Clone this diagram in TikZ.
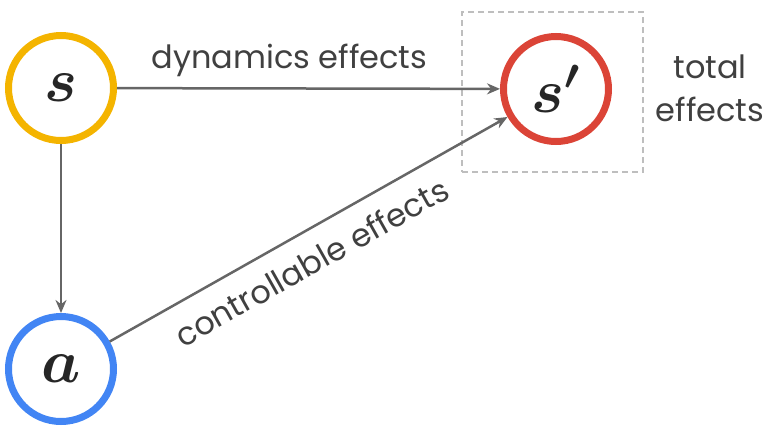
\RequirePackage{fix-cm}
\documentclass[tikz,border=0pt]{standalone}
\usepackage{fontspec}
\setmainfont{Poppins}
\usepackage{amsmath}
\usetikzlibrary{arrows.meta}
\definecolor{stateyellow}{RGB}{244,180,0}
\definecolor{actionblue}{RGB}{66,133,244}
\definecolor{nextred}{RGB}{219,68,55}
\definecolor{arrowgray}{RGB}{102,102,102}
\definecolor{boxgray}{RGB}{190,190,190}
\definecolor{textgray}{RGB}{64,64,64}

\begin{document}
\begin{tikzpicture}[
    x=1pt, y=-1pt,
    >={Stealth[length=13pt, width=11pt]},
    var/.style={circle, draw, line width=7pt, minimum size=105pt, inner sep=0pt, fill=white, text=black!85,
        font=\fontsize{62}{62}\selectfont},
    link/.style={arrowgray, line width=2.5pt, ->},
    lbl/.style={text=textgray, font=\fontsize{32}{43}\selectfont}
]

% Canvas
\useasboundingbox (0,0) rectangle (774,429);

% Total effects box (Dashed)
\node[draw=boxgray, line width=1.5pt, dash pattern=on 6pt off 4pt, minimum width=181pt, minimum height=160pt] (box) at (552.5,92) {};
\node[lbl, align=center] (total) at (710,88) {total\\effects};

% Variables
\node[var, draw=stateyellow] (s) at (61,88) {$\boldsymbol{s}$};
\node[var, draw=actionblue] (a) at (61,369) {$\boldsymbol{a}$};
\node[var, draw=nextred] (sp) at (556,89) {$\boldsymbol{s'}$};

% Effects
\draw[link] (s) -- node[lbl, above, pos=0.45, yshift=7pt] (dyn) {dynamics effects} (sp);
\draw[link] (s) -- (a);
\draw[link] (a) -- node[lbl, below, sloped, pos=0.47, yshift=-13pt] (ctrl) {controllable effects} (sp.-150);

\end{tikzpicture}
\end{document}
